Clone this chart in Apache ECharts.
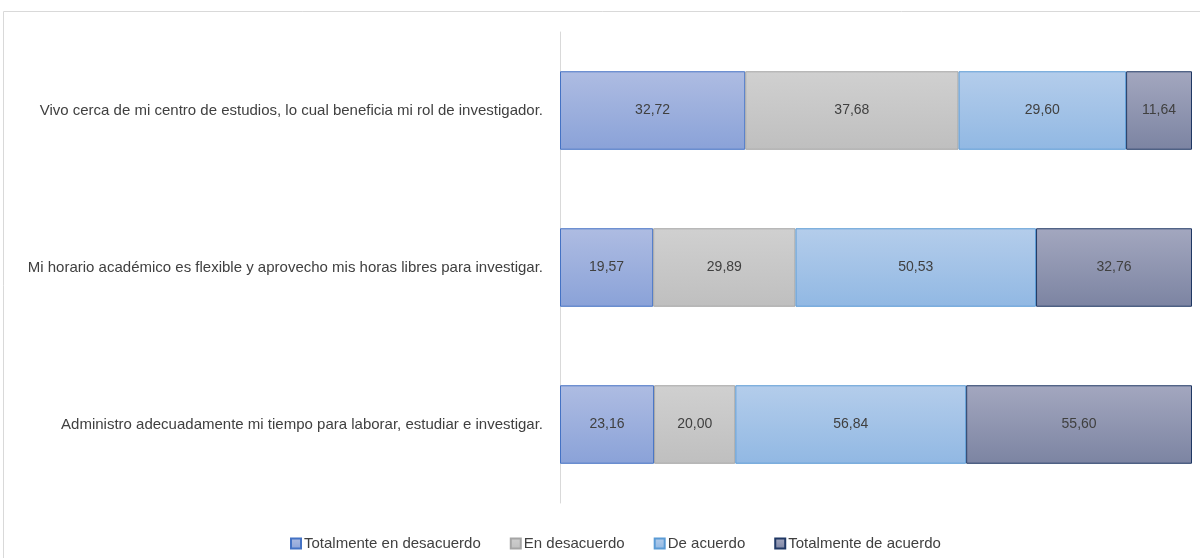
<!DOCTYPE html>
<html>
<head>
<meta charset="utf-8">
<script src="https://cdn.jsdelivr.net/npm/echarts@6/dist/echarts.min.js"></script>
<style>
  html, body { margin: 0; padding: 0; background: #fff; }
  #chart { width: 1200px; height: 558px; }
</style>
</head>
<body>
<div id="chart"></div>
<script>
// categories, top to bottom
const categories = [
    'Vivo cerca de mi centro de estudios, lo cual beneficia mi rol de investigador.',
    'Mi horario académico es flexible y aprovecho mis horas libres para investigar.',
    'Administro adecuadamente mi tiempo para laborar, estudiar e investigar.'
];
const seriesNames = ['Totalmente en desacuerdo', 'En desacuerdo', 'De acuerdo', 'Totalmente de acuerdo'];
const totDesacuerdo = [32.72, 19.57, 23.16];
const enDesacuerdo = [37.68, 29.89, 20.00];
const deAcuerdo = [29.60, 50.53, 56.84];
const totAcuerdo = [11.64, 32.76, 55.60];

const allValues = [totDesacuerdo, enDesacuerdo, deAcuerdo, totAcuerdo];

// 100% stacked: share of each row total
const rowTotals = categories.map((c, i) => allValues.reduce((s, arr) => s + arr[i], 0));

const styles = [
    { top: '#aebce2', bottom: '#8aa2d8', border: '#4472c4' },
    { top: '#d0d0d0', bottom: '#bfbfbf', border: '#a5a5a5' },
    { top: '#b4cdeb', bottom: '#91b8e3', border: '#5b9bd5' },
    { top: '#a3a7bf', bottom: '#7c84a2', border: '#203864' }
];

function grad(s) {
    return new echarts.graphic.LinearGradient(0, 0, 0, 1, [
        { offset: 0, color: s.top },
        { offset: 1, color: s.bottom }
    ]);
}

const series = seriesNames.map((name, k) => ({
    name: name,
    type: 'bar',
    stack: 'total',
    barWidth: '50%',
    data: allValues[k].map((v, i) => ({ value: v / rowTotals[i] * 100, raw: v })),
    itemStyle: {
        color: grad(styles[k]),
        borderColor: styles[k].border,
        borderWidth: 1
    },
    label: {
        show: true,
        position: 'inside',
        color: '#404040',
        fontFamily: 'Liberation Sans',
        fontSize: 14,
        formatter: p => p.data.raw.toFixed(2).replace('.', ',')
    }
}));

const chart = echarts.init(document.getElementById('chart'));
chart.setOption({
    animation: false,
    textStyle: { fontFamily: 'Liberation Sans' },
    graphic: [{
        type: 'rect',
        silent: true,
        shape: { x: 3.5, y: 11.5, width: 1300, height: 700 },
        style: { fill: 'none', stroke: '#d9d9d9', lineWidth: 1 }
    }],
    grid: { left: 560, right: 8, top: 32, bottom: 55 },
    legend: {
        top: 531,
        left: 285,
        itemWidth: 10,
        itemHeight: 10,
        itemGap: 29,
        icon: 'rect',
        textStyle: { color: '#404040', fontSize: 15, padding: [0, 0, 0, -2] },
        data: seriesNames
    },
    xAxis: {
        type: 'value',
        min: 0,
        max: 100,
        show: false
    },
    yAxis: {
        type: 'category',
        inverse: true,
        data: categories,
        axisLine: { show: true, lineStyle: { color: '#d9d9d9' } },
        axisTick: { show: false },
        axisLabel: { color: '#404040', fontSize: 15, margin: 17 }
    },
    series: series
});
</script>
</body>
</html>
